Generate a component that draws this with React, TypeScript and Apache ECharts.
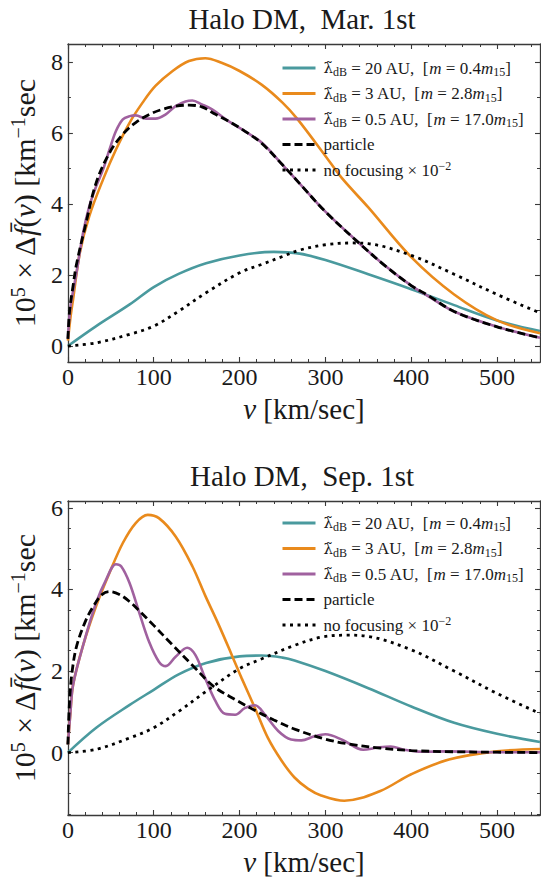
import React, { useEffect, useRef } from "react";
import * as echarts from "echarts";

// ---------- tick positions ----------
const xMajorTicks = [0, 100, 200, 300, 400, 500];
const xMinorTicks = [20, 40, 60, 80, 120, 140, 160, 180, 220, 240, 260, 280, 320, 340, 360, 380, 420, 440, 460, 480, 520, 540];
const marYMajor = [0, 2, 4, 6, 8];
const marYMinor = [1, 3, 5, 7];
const sepYMajor = [0, 2, 4, 6];
const sepYMinor = [-1.5, -1, -0.5, 0.5, 1, 1.5, 2.5, 3, 3.5, 4.5, 5, 5.5];

// ---------- Halo DM, Mar. 1st ----------
const marTealV = [0, 33, 72, 100, 129, 161, 200, 240, 270, 300, 350, 400, 450, 500, 550];
const marTealY = [0, 0.56, 1.17, 1.66, 2.03, 2.33, 2.55, 2.65, 2.6, 2.42, 2.02, 1.6, 1.15, 0.72, 0.42];

const marOrangeV = [0, 3, 6, 14, 25, 41, 56, 72, 87, 102, 122, 141, 160, 179, 200, 226, 250, 267, 300, 319, 350, 400, 450, 500, 550];
const marOrangeY = [0.15, 0.8, 1.31, 2.63, 3.66, 4.69, 5.53, 6.29, 6.85, 7.32, 7.74, 8.02, 8.1, 7.97, 7.74, 7.35, 6.85, 6.4, 5.35, 4.73, 3.9, 2.5, 1.45, 0.72, 0.36];

const marPurpleV = [0, 3, 10, 17.7, 25, 33, 41, 48.5, 56, 64, 72, 79, 91, 102, 114, 125.5, 137, 145, 156, 168, 187, 206, 226, 250, 269, 300, 340, 370, 400, 420, 450, 500, 550];
const marPurpleY = [0.2, 1.1, 2.06, 3.19, 3.94, 4.5, 4.97, 5.53, 6.05, 6.38, 6.47, 6.49, 6.4, 6.4, 6.52, 6.75, 6.88, 6.91, 6.8, 6.66, 6.33, 6.05, 5.72, 5.1, 4.6, 3.78, 2.88, 2.25, 1.7, 1.4, 0.97, 0.54, 0.23];

const marParticleV = [0, 2, 6, 10, 20, 33, 48.5, 64, 79, 95, 110, 125.5, 141, 156, 172, 187, 206, 226, 250, 269, 300, 340, 370, 400, 420, 450, 500, 550];
const marParticleY = [0.2, 1.0, 1.69, 2.3, 3.35, 4.6, 5.44, 5.96, 6.29, 6.52, 6.66, 6.75, 6.78, 6.73, 6.52, 6.33, 6.05, 5.7, 5.1, 4.6, 3.78, 2.88, 2.25, 1.7, 1.42, 0.97, 0.54, 0.23];

const marNoFocV = [0, 33, 72, 100, 129, 161, 200, 226, 250, 270, 300, 330, 350, 400, 450, 500, 550];
const marNoFocY = [0, 0.09, 0.33, 0.56, 0.98, 1.5, 2.06, 2.3, 2.52, 2.7, 2.85, 2.9, 2.88, 2.55, 2.02, 1.45, 0.93];

// ---------- Halo DM, Sep. 1st ----------
const sepTealV = [0, 33, 72, 100, 129, 161, 200, 226, 250, 264, 300, 350, 400, 450, 500, 550];
const sepTealY = [0, 0.61, 1.17, 1.54, 1.92, 2.2, 2.36, 2.38, 2.33, 2.26, 2.0, 1.58, 1.13, 0.73, 0.46, 0.26];

const sepOrangeV = [0, 3, 6, 17.7, 33, 48.5, 64, 79, 93, 106, 125.5, 145, 160, 176, 191, 202.5, 218, 233, 249, 264, 280, 295, 322, 364, 400, 444, 500, 550];
const sepOrangeY = [0.2, 1.0, 1.66, 2.63, 3.6, 4.41, 5.14, 5.63, 5.83, 5.75, 5.3, 4.57, 3.85, 3.12, 2.39, 1.82, 1.09, 0.36, -0.2, -0.61, -0.89, -1.05, -1.18, -0.94, -0.53, -0.17, 0.03, 0.09];

const sepPurpleV = [0, 3, 6, 17.7, 33, 44.7, 56, 62, 71.6, 83, 94.7, 106, 114, 125.5, 139, 148.6, 160, 172, 183, 195, 206, 218, 229.5, 245, 260, 272, 287, 300, 320, 344, 360, 376, 392, 412, 440, 500, 550];
const sepPurpleY = [0.2, 1.0, 1.66, 2.63, 3.68, 4.25, 4.62, 4.57, 4.17, 3.44, 2.71, 2.23, 2.12, 2.35, 2.57, 2.39, 1.82, 1.26, 0.95, 0.93, 1.09, 1.16, 0.93, 0.53, 0.32, 0.3, 0.4, 0.45, 0.31, 0.07, 0.12, 0.15, 0.07, 0.02, 0.03, 0.01, 0.01];

const sepParticleV = [0, 2, 5, 10, 20, 30, 40, 48.5, 60, 72, 83, 100, 120, 147, 170, 195, 220, 240, 265, 300, 325, 364, 400, 450, 500, 550];
const sepParticleY = [0.2, 1.3, 2.0, 2.6, 3.2, 3.6, 3.88, 3.95, 3.88, 3.7, 3.48, 3.12, 2.68, 2.1, 1.62, 1.3, 1.01, 0.8, 0.57, 0.33, 0.22, 0.11, 0.05, 0.02, 0.01, 0.0];

const sepNoFocV = [0, 33, 72, 100, 129, 161, 200, 226, 264, 295, 325, 350, 400, 450, 500, 550];
const sepNoFocY = [0, 0.08, 0.36, 0.61, 1.01, 1.5, 2.06, 2.3, 2.63, 2.83, 2.88, 2.85, 2.52, 2.0, 1.45, 0.96];

// ---------- names / styles ----------
const NAME_TEAL = "λ̃dB = 20 AU, [m = 0.4m15]";
const NAME_ORANGE = "λ̃dB = 3 AU, [m = 2.8m15]";
const NAME_PURPLE = "λ̃dB = 0.5 AU, [m = 17.0m15]";
const NAME_PARTICLE = "particle";
const NAME_NOFOC = "no focusing × 10−2";
const legendNames = [NAME_TEAL, NAME_ORANGE, NAME_PURPLE, NAME_PARTICLE, NAME_NOFOC];

const richLegend: Record<string, string> = {
  [NAME_TEAL]: "{lam|λ̃}{sub|dB} = 20 AU,  [{it|m} = 0.4{it|m}{sub|15}]",
  [NAME_ORANGE]: "{lam|λ̃}{sub|dB} = 3 AU,  [{it|m} = 2.8{it|m}{sub|15}]",
  [NAME_PURPLE]: "{lam|λ̃}{sub|dB} = 0.5 AU,  [{it|m} = 17.0{it|m}{sub|15}]",
  [NAME_PARTICLE]: "particle",
  [NAME_NOFOC]: "no focusing × 10{sup|−2}",
};

const TEAL = "#4a9a9e";
const ORANGE = "#e98a1c";
const PURPLE = "#a0619f";
const BLACK = "#000000";
const FONT = '"Liberation Serif", "DejaVu Serif", serif';
const AXIS_COLOR = "#3a3a3a";
const TEXT_COLOR = "#1a1a1a";

const zip = (v: number[], y: number[]) => v.map((x, i) => [x, y[i]]);

function xAxes(gridIndex: number) {
  const base = {
    type: "value",
    gridIndex,
    min: 0,
    max: 550,
    splitLine: { show: false },
    minorTick: { show: false },
  };
  return [
    {
      ...base,
      position: "bottom",
      axisLine: { show: true, onZero: false, lineStyle: { color: AXIS_COLOR, width: 1.3 } },
      axisTick: { show: true, inside: true, length: 5, customValues: xMajorTicks, lineStyle: { color: AXIS_COLOR, width: 1.1 } },
      axisLabel: { show: true, customValues: xMajorTicks, fontFamily: FONT, fontSize: 24, color: TEXT_COLOR, margin: 3 },
      name: "{it|v} [km/sec]",
      nameLocation: "middle",
      nameGap: 31,
      nameTextStyle: {
        fontFamily: FONT, fontSize: 29, color: TEXT_COLOR, lineHeight: 32,
        rich: { it: { fontFamily: FONT, fontStyle: "italic", fontSize: 29, lineHeight: 32, color: TEXT_COLOR } },
      },
    },
    {
      ...base,
      position: "bottom",
      axisLine: { show: false, onZero: false },
      axisTick: { show: true, inside: true, length: 3, customValues: xMinorTicks, lineStyle: { color: AXIS_COLOR, width: 1 } },
      axisLabel: { show: false },
    },
    {
      ...base,
      position: "top",
      axisLine: { show: true, onZero: false, lineStyle: { color: AXIS_COLOR, width: 1.3 } },
      axisTick: { show: true, inside: true, length: 5, customValues: xMajorTicks, lineStyle: { color: AXIS_COLOR, width: 1.1 } },
      axisLabel: { show: false },
    },
    {
      ...base,
      position: "top",
      axisLine: { show: false, onZero: false },
      axisTick: { show: true, inside: true, length: 3, customValues: xMinorTicks, lineStyle: { color: AXIS_COLOR, width: 1 } },
      axisLabel: { show: false },
    },
  ];
}

function yAxes(gridIndex: number, min: number, max: number, major: number[], minor: number[]) {
  const base = {
    type: "value",
    gridIndex,
    min,
    max,
    splitLine: { show: false },
    minorTick: { show: false },
  };
  return [
    {
      ...base,
      position: "left",
      axisLine: { show: true, onZero: false, lineStyle: { color: AXIS_COLOR, width: 1.3 } },
      axisTick: { show: true, inside: true, length: 5, customValues: major, lineStyle: { color: AXIS_COLOR, width: 1.1 } },
      axisLabel: { show: true, customValues: major, fontFamily: FONT, fontSize: 24, color: TEXT_COLOR, margin: 5 },
      name: "10{sup|5} × Δ{it|f̄}({it|v}) [km{sup|−1}sec",
      nameLocation: "middle",
      nameRotate: 90,
      nameGap: 20,
      nameTextStyle: {
        fontFamily: FONT, fontSize: 30, color: TEXT_COLOR, lineHeight: 32,
        rich: {
          it: { fontFamily: FONT, fontStyle: "italic", fontSize: 30, lineHeight: 32, color: TEXT_COLOR },
          sup: { fontFamily: FONT, fontSize: 20, lineHeight: 20, verticalAlign: "top", color: TEXT_COLOR },
        },
      },
    },
    {
      ...base,
      position: "left",
      axisLine: { show: false, onZero: false },
      axisTick: { show: true, inside: true, length: 3, customValues: minor, lineStyle: { color: AXIS_COLOR, width: 1 } },
      axisLabel: { show: false },
    },
    {
      ...base,
      position: "right",
      axisLine: { show: true, onZero: false, lineStyle: { color: AXIS_COLOR, width: 1.3 } },
      axisTick: { show: true, inside: true, length: 5, customValues: major, lineStyle: { color: AXIS_COLOR, width: 1.1 } },
      axisLabel: { show: false },
    },
    {
      ...base,
      position: "right",
      axisLine: { show: false, onZero: false },
      axisTick: { show: true, inside: true, length: 3, customValues: minor, lineStyle: { color: AXIS_COLOR, width: 1 } },
      axisLabel: { show: false },
    },
  ];
}

function line(name: string, v: number[], y: number[], color: string, axisIndex: number, type: any) {
  return {
    type: "line",
    name,
    xAxisIndex: axisIndex,
    yAxisIndex: axisIndex,
    data: zip(v, y),
    symbol: "none",
    showSymbol: false,
    smooth: 0.35,
    z: 3,
    lineStyle: { color, width: type === "solid" ? 2.6 : 2.8, type, cap: "butt" },
    itemStyle: { color },
  };
}

function legend(top: number) {
  return {
    orient: "vertical",
    left: 276,
    top,
    itemWidth: 33,
    itemHeight: 14,
    itemGap: 5.5,
    data: legendNames,
    selectedMode: false,
    formatter: (n: string) => richLegend[n] ?? n,
    itemStyle: { color: "rgba(0,0,0,0)", opacity: 0, borderWidth: 0 },
    lineStyle: { width: 3 },
    textStyle: {
      fontFamily: FONT,
      fontSize: 17,
      lineHeight: 20,
      color: TEXT_COLOR,
      padding: [0, 0, 0, 3],
      rich: {
        lam: { fontFamily: '"DejaVu Serif", serif', fontSize: 15, lineHeight: 20, color: TEXT_COLOR },
        it: { fontFamily: FONT, fontStyle: "italic", fontSize: 17, lineHeight: 20, color: TEXT_COLOR },
        sub: { fontFamily: FONT, fontSize: 12, lineHeight: 12, verticalAlign: "bottom", color: TEXT_COLOR },
        sup: { fontFamily: FONT, fontSize: 12, lineHeight: 12, verticalAlign: "top", color: TEXT_COLOR },
      },
    },
  };
}

const DASH = [8, 4];
const DOT = [3, 4.5];

export default function App() {
  const ref = useRef<HTMLDivElement>(null);
  useEffect(() => {
    if (!ref.current) return;
    const chart = echarts.init(ref.current, undefined, { renderer: "svg" });
    const option: any = {
      animation: false,
      backgroundColor: "#ffffff",
      grid: [
        { left: 64, top: 44, width: 476, height: 318 },
        { left: 64, top: 501, width: 476, height: 317 },
      ],
      xAxis: [...xAxes(0), ...xAxes(1)],
      yAxis: [
        ...yAxes(0, -0.45, 8.5, marYMajor, marYMinor),
        ...yAxes(1, -1.53, 6.17, sepYMajor, sepYMinor),
      ],
      legend: [legend(53), legend(508)],
      graphic: [
        {
          type: "text", x: 302, y: 19,
          style: { text: "Halo DM,  Mar. 1st", fontFamily: FONT, fontSize: 29, fill: TEXT_COLOR, align: "center", verticalAlign: "middle" },
        },
        {
          type: "text", x: 302, y: 476,
          style: { text: "Halo DM,  Sep. 1st", fontFamily: FONT, fontSize: 29, fill: TEXT_COLOR, align: "center", verticalAlign: "middle" },
        },
      ],
      series: [
        line(NAME_TEAL, marTealV, marTealY, TEAL, 0, "solid"),
        line(NAME_ORANGE, marOrangeV, marOrangeY, ORANGE, 0, "solid"),
        line(NAME_PURPLE, marPurpleV, marPurpleY, PURPLE, 0, "solid"),
        line(NAME_PARTICLE, marParticleV, marParticleY, BLACK, 0, DASH),
        line(NAME_NOFOC, marNoFocV, marNoFocY, BLACK, 0, DOT),
        line(NAME_TEAL, sepTealV, sepTealY, TEAL, 4, "solid"),
        line(NAME_ORANGE, sepOrangeV, sepOrangeY, ORANGE, 4, "solid"),
        line(NAME_PURPLE, sepPurpleV, sepPurpleY, PURPLE, 4, "solid"),
        line(NAME_PARTICLE, sepParticleV, sepParticleY, BLACK, 4, DASH),
        line(NAME_NOFOC, sepNoFocV, sepNoFocY, BLACK, 4, DOT),
      ],
    };
    chart.setOption(option);
    return () => chart.dispose();
  }, []);
  return (
    <div
      ref={ref}
      style={{ position: "fixed", left: 0, top: 0, width: 541, height: 879, background: "#fff" }}
    />
  );
}
